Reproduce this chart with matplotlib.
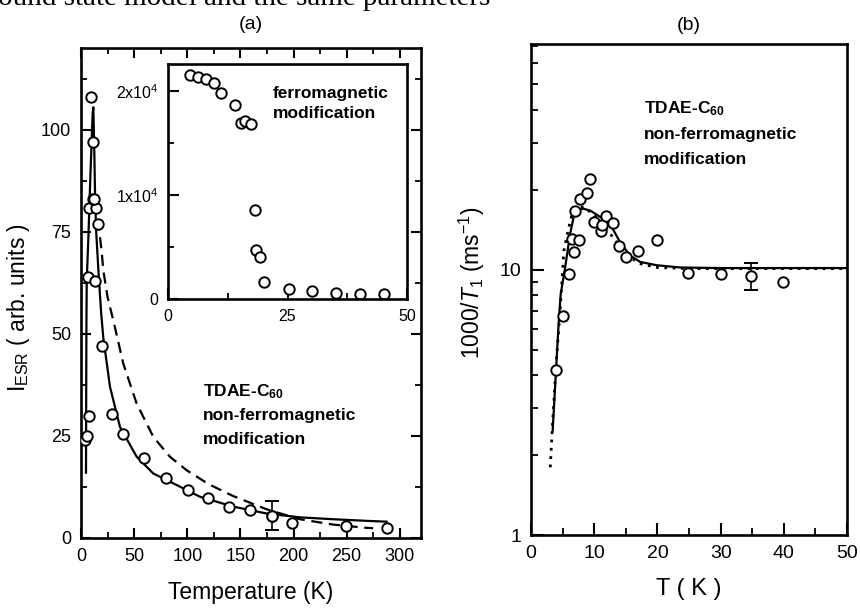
import matplotlib
matplotlib.use("Agg")
import matplotlib.pyplot as plt
from matplotlib.ticker import MultipleLocator, FixedLocator, NullFormatter, LogLocator

plt.rcParams['font.family'] = ['Liberation Sans', 'DejaVu Sans']
plt.rcParams['mathtext.fontset'] = 'custom'
plt.rcParams['mathtext.rm'] = 'Liberation Sans'
plt.rcParams['mathtext.it'] = 'Liberation Sans:italic'
plt.rcParams['mathtext.bf'] = 'Liberation Sans:bold'

# ---------------- panel (a): main data ----------------
a_T = [3.8, 5.3, 7.5, 6.9, 13.2, 7.5, 13.8, 11.6, 12.4, 11.6, 9.1, 16.3, 19.5,
       29.5, 39.8, 59.6, 79.7, 100.4, 119.8, 139.5, 159.0, 179.4, 199.0, 249.0, 287.6]
a_I = [24.0, 25.0, 29.9, 63.9, 63.0, 80.7, 80.7, 83.0, 83.0, 97.0, 108.0, 76.9, 46.9,
       30.3, 25.4, 19.5, 14.6, 11.7, 9.9, 7.7, 6.8, 5.4, 3.7, 2.9, 2.5]
a_err_T = [179.4]
a_err_I = [5.4]
a_err_lo = [3.4]
a_err_hi = [3.6]

# solid model curve
a_sol_T = [4.7, 4.9, 5.1, 5.4, 7.0, 9.0, 11.0, 11.6, 12.5, 13.3, 14.3, 16.5, 19.0, 21.0,
           27.3, 36.7, 52.4, 68.0, 80.6, 112.0, 143.0, 174.7, 206.0, 237.0, 268.8, 287.6]
a_sol_I = [16.0, 35.0, 52.0, 63.0, 74.0, 90.0, 104.0, 105.5, 95.0, 83.0, 75.0, 65.0, 55.0, 49.0,
           37.0, 27.2, 19.9, 15.8, 14.2, 10.1, 7.7, 6.0, 5.06, 4.6, 4.2, 4.0]
# dashed model curve
a_dash_T = [16.0, 19.5, 21.0, 25.0, 30.4, 39.8, 52.4, 68.0, 83.7, 99.4, 120.0, 143.0,
            175.0, 206.0, 237.0, 268.0, 275.0]
a_dash_I = [78.0, 70.0, 65.5, 59.0, 53.3, 42.7, 32.9, 24.8, 19.9, 16.6, 13.2, 10.3,
            7.0, 4.6, 3.3, 2.5, 2.4]

# ---------------- panel (a): inset ----------------
ins_T = [4.5, 6.2, 8.0, 9.7, 11.0, 14.1, 15.2, 16.2, 17.3, 18.2, 18.5, 19.2, 20.1,
         25.3, 30.1, 35.2, 40.2, 45.1]
ins_I = [21540, 21380, 21120, 20740, 19840, 18660, 16900, 17150, 16800, 8580, 4740,
         4030, 1600, 960, 740, 580, 480, 510]
ins_yticks = [0, 10000, 20000]
ins_ylabels = ['0', r'1x10$^4$', r'2x10$^4$']

# ---------------- panel (b) ----------------
b_T = [4.0, 5.0, 6.06, 6.75, 6.5, 7.55, 6.9, 7.8, 8.86, 9.4, 9.9, 11.0, 11.2, 11.9,
       12.9, 13.9, 15.0, 16.9, 19.9, 24.8, 30.0, 39.8]
b_R = [4.2, 6.7, 9.66, 11.65, 13.1, 13.0, 16.6, 18.5, 19.5, 22.0, 15.1, 14.0, 14.7, 16.0,
       15.0, 12.3, 11.15, 11.8, 13.0, 9.75, 9.66, 9.03]
b_err_T = [34.8]
b_err_R = [9.44]
b_err_lo = [1.08]
b_err_hi = [1.16]

b_sol_T = [3.43, 3.96, 4.37, 4.7, 5.4, 6.2, 6.96, 8.28, 9.4, 11.0, 12.5, 14.1, 15.7,
           17.3, 19.9, 23.6, 30.0, 50.0]
b_sol_R = [2.48, 4.18, 6.26, 8.1, 10.2, 13.7, 16.7, 17.0, 16.7, 15.8, 14.9, 12.7, 11.3,
           10.7, 10.4, 10.2, 10.15, 10.15]
b_dot_T = [3.05, 3.4, 4.0, 4.6, 5.2, 6.0, 6.5, 7.5, 8.5, 10.0, 11.5, 12.5, 14.0, 15.5,
           17.5, 20.0, 25.0, 50.0]
b_dot_R = [1.8, 2.6, 4.5, 7.0, 11.8, 14.5, 16.2, 17.3, 17.2, 16.0, 14.8, 13.7, 12.3, 11.2,
           10.5, 10.2, 10.1, 10.1]

label_lines = [r'TDAE-C$_{\mathbf{60}}$', 'non-ferromagnetic', 'modification']

# ---------------- figure ----------------
W, H = 860, 609
fig = plt.figure(figsize=(W / 100, H / 100), dpi=100)

def rect(l, t, r, b):
    return [l / W, 1 - b / H, (r - l) / W, (b - t) / H]

SPW = 1.9
mk = dict(marker='o', ms=7.5, mfc='white', mec='black', mew=1.4, ls='none')

def style(ax, size):
    for s in ax.spines.values():
        s.set_linewidth(SPW)
    ax.tick_params(which='major', direction='in', length=7, width=1.5, labelsize=size, pad=7)
    ax.tick_params(which='minor', direction='in', length=4, width=1.3)

# panel a
ax = fig.add_axes(rect(81, 48, 421, 538))
ax.plot(a_sol_T, a_sol_I, color='black', lw=1.6, zorder=2)
ax.plot(a_dash_T, a_dash_I, color='black', lw=1.6, ls=(0, (5, 3)), zorder=2)
ax.plot(a_T, a_I, zorder=3, **mk)
ax.errorbar(a_err_T, a_err_I, yerr=[a_err_lo, a_err_hi], color='black', lw=1.2,
            capsize=5, capthick=1.2, zorder=3, **mk)
ax.set_xlim(0, 320)
ax.set_ylim(0, 120)
ax.xaxis.set_major_locator(FixedLocator([0, 50, 100, 150, 200, 250, 300]))
ax.xaxis.set_minor_locator(MultipleLocator(25))
ax.yaxis.set_major_locator(FixedLocator([0, 25, 50, 75, 100]))
ax.yaxis.set_minor_locator(MultipleLocator(12.5))
style(ax, 13)
ax.tick_params(which='both', top=True, right=True)
ax.set_xlabel('Temperature (K)', fontsize=16.5, labelpad=12)
ax.set_ylabel(r'I$_{\rm ESR}$ ( arb. units )', fontsize=16.5)
ax.yaxis.set_label_coords(-0.143, 0.47)
ax.set_title('(a)', fontsize=14, pad=14)
for i, line in enumerate(label_lines):
    fig.text(203 / W, 1 - (392 + i * 23.5) / H, line, fontsize=12.5, fontweight='bold',
             va='center', ha='left')

# inset
ins = fig.add_axes(rect(168, 64, 407, 299))
ins.plot(ins_T, ins_I, **mk)
ins.set_xlim(0, 50)
ins.set_ylim(0, 22600)
ins.xaxis.set_major_locator(FixedLocator([0, 25, 50]))
ins.xaxis.set_minor_locator(MultipleLocator(12.5))
ins.yaxis.set_major_locator(FixedLocator(ins_yticks))
ins.yaxis.set_minor_locator(MultipleLocator(5000))
ins.set_yticklabels(ins_ylabels)
style(ins, 11.5)
ins.tick_params(which='major', length=8)
ins.text(0.44, 0.905, 'ferromagnetic\nmodification', transform=ins.transAxes, fontsize=12.5,
         fontweight='bold', va='top', ha='left', linespacing=1.4)

# panel b
bx = fig.add_axes(rect(531, 44, 847, 535))
bx.set_yscale('log')
bx.plot(b_dot_T, b_dot_R, color='black', lw=2.0, ls=(0, (1, 2)), zorder=2)
bx.plot(b_sol_T, b_sol_R, color='black', lw=1.6, zorder=2)
bx.plot(b_T, b_R, zorder=3, **mk)
bx.errorbar(b_err_T, b_err_R, yerr=[b_err_lo, b_err_hi], color='black', lw=1.2,
            capsize=5, capthick=1.2, zorder=3, **mk)
bx.set_xlim(0, 50)
bx.set_ylim(1, 71)
bx.xaxis.set_major_locator(FixedLocator([0, 10, 20, 30, 40, 50]))
bx.xaxis.set_minor_locator(MultipleLocator(5))
bx.yaxis.set_major_locator(FixedLocator([1, 10]))
bx.set_yticklabels(['1', '10'])
bx.yaxis.set_minor_locator(LogLocator(base=10, subs=range(2, 10)))
bx.yaxis.set_minor_formatter(NullFormatter())
style(bx, 14)
bx.tick_params(which='major', length=9)
bx.tick_params(which='minor', length=5)
bx.set_xlabel('T ( K )', fontsize=17, labelpad=12)
bx.set_ylabel(r'1000/$T_1$ (ms$^{-1}$)', fontsize=16.5)
bx.yaxis.set_label_coords(-0.14, 0.513)
bx.set_title('(b)', fontsize=14, pad=10)
for i, line in enumerate(label_lines):
    fig.text(644 / W, 1 - (109 + i * 25.5) / H, line, fontsize=12.5, fontweight='bold',
             va='center', ha='left')

# page text at the very top of the scan (cut by the image edge in the reference)
fig.text(-2 / W, 1 - 5 / H, 'ound state model and the same parameters', fontsize=21,
         family='Liberation Serif', va='baseline', ha='left')

fig.savefig('out.png', dpi=100)
